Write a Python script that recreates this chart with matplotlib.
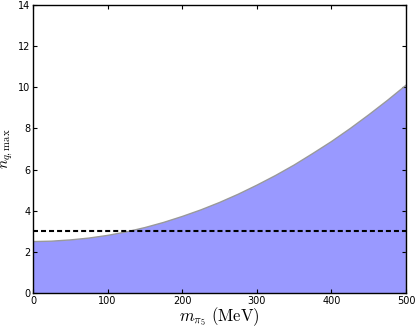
import matplotlib
matplotlib.use("Agg")
import matplotlib.pyplot as plt

m_vals = [0, 25, 50, 75, 100, 125, 150, 175, 200, 225, 250, 275, 300,
          325, 350, 375, 400, 425, 450, 475, 500]
n_max = [2.50, 2.52, 2.58, 2.67, 2.80, 2.97, 3.18, 3.43, 3.72, 4.04, 4.40,
         4.80, 5.24, 5.71, 6.22, 6.78, 7.36, 7.99, 8.66, 9.36, 10.10]
n_ref = 3.0
xticks = [0, 100, 200, 300, 400, 500]
yticks = [0, 2, 4, 6, 8, 10, 12, 14]

plt.rcParams['mathtext.fontset'] = 'cm'

fig = plt.figure(figsize=(4.16, 3.28), dpi=100)
ax = fig.add_axes([33/416, 1-293/328, (406-33)/416, (293-5)/328])

ax.fill_between(m_vals, 0, n_max, facecolor='blue', alpha=0.4,
                edgecolor='none')
ax.plot(m_vals, n_max, color='#999999', lw=1.0)
ax.plot([m_vals[-1], m_vals[-1]], [0, n_max[-1]], color='#999999', lw=1.0)
ax.plot([m_vals[0], m_vals[-1]], [n_ref, n_ref], color='black', lw=1.5,
        linestyle=(0, (2.4, 1.45)))

ax.set_xlim(0, 500)
ax.set_ylim(0, 14)
ax.set_xticks(xticks)
ax.set_yticks(yticks)
ax.tick_params(direction='in', top=True, right=True, labelsize=7,
               length=3, width=0.8, pad=2)
for s in ax.spines.values():
    s.set_linewidth(1.0)

ax.set_xlabel(r'$m_{\pi_5}\ (\mathrm{MeV})$', fontsize=12, labelpad=0)
ax.set_ylabel(r'$n_{q,\max}$', fontsize=11, labelpad=2)

fig.savefig('out.png', dpi=100)
